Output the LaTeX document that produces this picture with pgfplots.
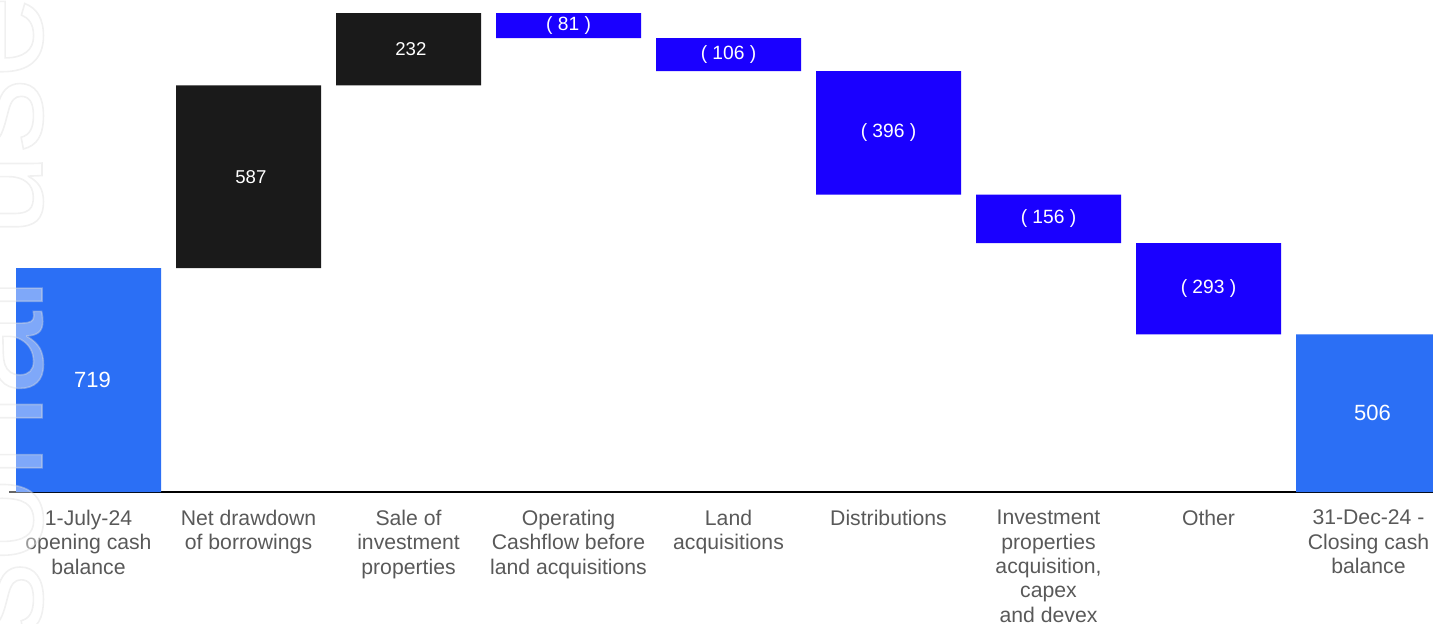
\documentclass[border=0pt]{standalone}
\usepackage{pgfplots}
\usepackage{pgfplotstable}
\pgfplotsset{compat=1.18}
\usepackage{fontspec}
\setmainfont{Liberation Sans}
\definecolor{cBlack}{HTML}{1A1A1A}
\definecolor{cBlue}{HTML}{1A00FF}
\definecolor{cLight}{HTML}{2B6FF5}
\definecolor{cText}{HTML}{595959}

\pgfplotstableread{
x base light black blue
0 0    719  0   0
1 719  0    587 0
2 1306 0    232 0
3 1457 0    0   81
4 1351 0    0   106
5 955  0    0   396
6 799  0    0   156
7 506  0    0   293
8 0    506  0   0
}\wf

% labels of the opening and closing balances
\pgfplotstableread[col sep=comma]{
x,mid,lab
0,359.5,719
8,253,506
}\labsA

% labels of the rises
\pgfplotstableread[col sep=comma]{
x,mid,lab
1,1012.5,587
2,1422,232
}\labsB

% labels of the falls
\pgfplotstableread[col sep=comma]{
x,mid,lab
3,1497.5,( 81 )
4,1404,( 106 )
5,1153,( 396 )
6,877,( 156 )
7,652.5,( 293 )
}\labsC

\begin{document}
\begin{tikzpicture}
\pgfplotsset{
  common/.style={
    at={(0,0)}, anchor=south west,
    scale only axis, width=712pt, height=239.5pt,
    xmin=-0.497, xmax=8.403, ymin=0, ymax=1538,
  },
  lab/.style={only marks, mark=*, mark size=0pt, mark options={draw=none, fill=none},
    nodes near coords, point meta=explicit symbolic},
}
\begin{axis}[
  common,
  ybar stacked, bar width=72.5pt,
  axis x line*=bottom, axis y line=none,
  x axis line style={line width=1pt, black, -},
  xtick={0,...,8}, major tick length=0pt,
  xticklabels={1-July-24\\opening cash\\balance, Net drawdown\\of borrowings, Sale of\\investment\\properties, Operating\\Cashflow before\\land acquisitions, Land\\acquisitions, Distributions, {Investment\\properties\\acquisition,\\capex\\and devex}, Other, 31-Dec-24 -\\Closing cash\\balance},
  xticklabel style={align=center, font=\fontsize{10.6}{12.2}\selectfont, text=cText, yshift=-5.5pt},
]
\addplot[fill=none, draw=none] table[x=x, y=base] {\wf};
\addplot[fill=cLight, draw=none] table[x=x, y=light] {\wf};
\addplot[fill=cBlack, draw=none] table[x=x, y=black] {\wf};
\addplot[fill=cBlue, draw=none] table[x=x, y=blue] {\wf};
\end{axis}
\begin{axis}[common, hide axis, clip=false]
\addplot[lab, every node near coord/.append style={anchor=center, xshift=2pt, font=\fontsize{11}{13}\selectfont, text=white}]
  table[x=x, y=mid, meta=lab] {\labsA};
\addplot[lab, every node near coord/.append style={anchor=center, xshift=1.2pt, font=\fontsize{9.3}{11}\selectfont, text=white}]
  table[x=x, y=mid, meta=lab] {\labsB};
\addplot[lab, every node near coord/.append style={anchor=center, font=\fontsize{9.6}{11}\selectfont, text=white}]
  table[x=x, y=mid, meta=lab] {\labsC};
\end{axis}
\node[rotate=90, anchor=base east, inner sep=0pt, text=white, text opacity=0.4]
  at (16.5pt,249pt) {\fontsize{75}{75}\selectfont\special{pdf:literal direct 2 Tr 0.8 w 0.86 G}personal use\special{pdf:literal direct 0 Tr}};
\pgfresetboundingbox
\path (-4.5pt,-65.5pt) rectangle (712pt,246pt);
\end{tikzpicture}
\end{document}
